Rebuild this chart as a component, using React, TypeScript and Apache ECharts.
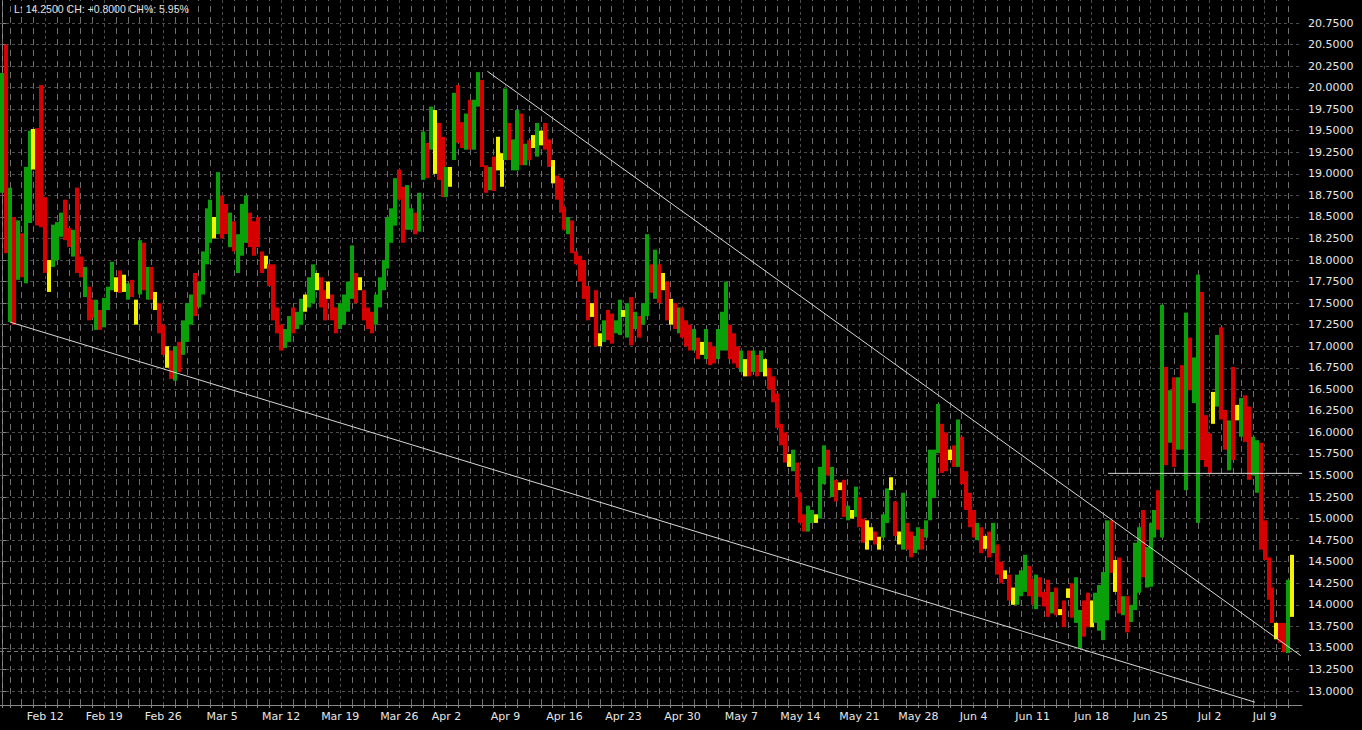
import React, { useEffect, useRef } from "react";
import * as echarts from "echarts";

// ---- data ----
const tradingDays = [
  "Feb 6", "Feb 7", "Feb 8", "Feb 9",
  "Feb 12", "Feb 13", "Feb 14", "Feb 15", "Feb 16",
  "Feb 19", "Feb 20", "Feb 21", "Feb 22", "Feb 23",
  "Feb 26", "Feb 27", "Feb 28", "Mar 1", "Mar 2",
  "Mar 5", "Mar 6", "Mar 7", "Mar 8", "Mar 9",
  "Mar 12", "Mar 13", "Mar 14", "Mar 15", "Mar 16",
  "Mar 19", "Mar 20", "Mar 21", "Mar 22", "Mar 23",
  "Mar 26", "Mar 27", "Mar 28", "Mar 29",
  "Apr 2", "Apr 3", "Apr 4", "Apr 5", "Apr 6",
  "Apr 9", "Apr 10", "Apr 11", "Apr 12", "Apr 13",
  "Apr 16", "Apr 17", "Apr 18", "Apr 19", "Apr 20",
  "Apr 23", "Apr 24", "Apr 25", "Apr 26", "Apr 27",
  "Apr 30", "May 1", "May 2", "May 3", "May 4",
  "May 7", "May 8", "May 9", "May 10", "May 11",
  "May 14", "May 15", "May 16", "May 17", "May 18",
  "May 21", "May 22", "May 23", "May 24", "May 25",
  "May 28", "May 29", "May 30", "May 31", "Jun 1",
  "Jun 4", "Jun 5", "Jun 6", "Jun 7", "Jun 8",
  "Jun 11", "Jun 12", "Jun 13", "Jun 14", "Jun 15",
  "Jun 18", "Jun 19", "Jun 20", "Jun 21", "Jun 22",
  "Jun 25", "Jun 26", "Jun 27", "Jun 28", "Jun 29",
  "Jul 2", "Jul 3", "Jul 4", "Jul 5", "Jul 6",
  "Jul 9", "Jul 10", "Jul 11",
];
const shortDays = ["Feb 6", "May 28", "Jul 4", "Jul 11"]; // 2 bars instead of 3
const weekLabels = [
  "Feb 12", "Feb 19", "Feb 26", "Mar 5", "Mar 12", "Mar 19", "Mar 26", "Apr 2",
  "Apr 9", "Apr 16", "Apr 23", "Apr 30", "May 7", "May 14", "May 21", "May 28",
  "Jun 4", "Jun 11", "Jun 18", "Jun 25", "Jul 2", "Jul 9",
];

const highs = [
  20.17, 20.50, 18.84, 18.50, 18.46, 18.31, 19.08, 19.50, 19.52, 19.53, 20.03,
  18.73, 18.00, 18.41, 18.44, 18.55, 18.70, 18.37, 18.35, 18.84, 18.04, 17.92, 17.69, 17.54, 17.54, 17.42,
  17.56, 17.69, 17.98, 17.80, 17.88, 17.83, 17.73, 17.77, 17.54, 18.23, 18.20, 17.92, 17.92, 17.63, 17.50,
  17.25, 17.00, 16.95, 17.00, 17.05, 17.30, 17.50, 17.60, 17.85, 17.75, 18.10, 18.60, 18.70, 18.50, 19.02,
  18.75, 18.65, 18.55, 18.45, 18.30, 18.65, 18.75, 18.55, 18.45, 18.50, 18.10, 18.05, 17.95, 17.95, 17.45,
  17.25, 17.20, 17.35, 17.45, 17.40, 17.55, 17.60, 17.80, 17.95, 17.85, 17.80, 17.65, 17.75, 17.60, 17.45,
  17.50, 17.60, 17.75, 18.17, 17.85, 17.80, 17.65, 17.45, 17.40, 17.60, 17.80, 18.00, 18.50, 18.60, 18.95,
  19.05, 18.85, 18.87, 18.60, 18.55, 18.78, 19.49, 19.36, 19.78, 19.74, 19.59, 19.43,
  19.08, 19.08, 19.94, 20.03, 19.60, 19.70, 19.86, 19.86, 20.18, 20.09, 19.10, 19.08, 19.20, 19.43, 19.24,
  19.99, 19.59, 19.40, 19.74, 19.70, 19.35, 19.39, 19.45, 19.59, 19.50, 19.59, 19.40, 19.16, 18.98, 18.95,
  18.62, 18.50, 18.46, 18.10, 18.05, 18.00, 17.70, 17.50, 17.65, 17.15, 17.30, 17.42, 17.38, 17.30, 17.54,
  17.42, 17.50, 17.57, 17.40, 17.35, 17.50, 18.30, 17.95, 18.12, 17.95, 17.85, 17.75, 17.55, 17.50, 17.45,
  17.45, 17.30, 17.25, 17.20, 17.10, 17.05, 17.20, 17.05, 17.00, 17.20, 17.40, 17.75, 17.25, 17.15, 17.00,
  16.95, 16.85, 16.95, 16.95, 16.90, 16.95, 16.85, 16.75, 16.65, 16.45, 16.10, 16.00, 15.75, 15.80, 15.65,
  15.30, 15.05, 15.15, 15.10, 15.05, 15.60, 15.85, 15.80, 15.60, 15.45, 15.42, 15.45, 15.15, 15.10, 15.37,
  15.25, 15.00, 14.98, 14.90, 14.85, 14.79, 15.05, 15.35, 15.48, 15.20, 14.85, 15.30, 14.95, 14.85, 14.80,
  14.90, 14.88, 14.98, 15.80, 15.80, 16.33, 16.10, 16.00, 15.80, 15.85, 16.15, 15.95, 15.55, 15.30,
  15.10, 14.95, 14.90, 14.80, 14.85, 14.95, 14.70, 14.50, 14.40, 14.35, 14.20, 14.35, 14.40, 14.58, 14.45,
  14.30, 14.35, 14.32, 14.15, 14.29, 14.15, 14.20, 13.95, 14.05, 14.19, 14.25, 14.32, 13.94, 14.05, 14.14,
  14.05, 14.14, 14.23, 14.38, 14.98, 14.98, 14.52, 14.55, 14.10, 14.10, 14.00, 14.72, 14.90, 15.10, 14.67,
  14.95, 15.10, 15.33, 17.48, 16.76, 16.49, 16.64, 16.64, 16.78, 17.39, 17.10, 16.87, 17.83, 17.63, 16.20,
  15.99, 16.47, 17.13, 17.22, 16.26, 16.14, 16.76, 16.32, 16.40, 16.43, 16.30, 15.95, 15.91, 15.88,
  14.98, 14.55, 14.20, 13.79, 13.79, 13.79, 14.29, 14.58,
];
const lows = [
  18.78, 18.08, 17.28, 17.25, 17.77, 17.80, 17.73, 18.43, 19.05, 18.40, 18.38,
  17.85, 17.63, 17.92, 18.00, 18.27, 18.23, 18.15, 18.04, 17.85, 17.80, 17.57, 17.30, 17.33, 17.19, 17.19,
  17.22, 17.42, 17.65, 17.63, 17.62, 17.63, 17.54, 17.57, 17.25, 17.60, 17.65, 17.54, 17.54, 17.42, 17.15,
  16.90, 16.75, 16.62, 16.60, 16.70, 16.90, 17.05, 17.25, 17.35, 17.45, 17.60, 17.95, 18.20, 18.25, 18.30,
  18.25, 18.30, 18.15, 18.10, 17.85, 18.05, 18.20, 18.15, 18.05, 18.15, 17.85, 17.90, 17.70, 17.30, 17.15,
  16.95, 16.98, 17.05, 17.15, 17.20, 17.25, 17.40, 17.45, 17.50, 17.65, 17.45, 17.30, 17.55, 17.30, 17.15,
  17.20, 17.25, 17.40, 17.55, 17.50, 17.65, 17.30, 17.20, 17.15, 17.25, 17.45, 17.65, 17.90, 18.20, 18.40,
  18.70, 18.20, 18.35, 18.35, 18.30, 18.33, 18.93, 18.95, 19.28, 19.00, 18.93, 18.73,
  18.73, 18.85, 19.16, 19.36, 19.30, 19.28, 19.28, 19.28, 19.78, 19.08, 18.78, 18.81, 18.80, 19.04, 18.85,
  19.16, 19.16, 19.04, 19.04, 19.10, 19.10, 19.16, 19.30, 19.20, 19.33, 19.28, 19.08, 18.89, 18.70, 18.55,
  18.35, 18.30, 18.08, 17.95, 17.75, 17.55, 17.30, 17.34, 17.00, 17.00, 17.05, 17.07, 17.03, 17.15, 17.13,
  17.34, 17.10, 17.01, 17.20, 17.10, 17.25, 17.35, 17.62, 17.55, 17.50, 17.65, 17.30, 17.25, 17.20, 17.15,
  17.10, 17.00, 16.95, 16.95, 16.85, 16.90, 16.85, 16.78, 16.80, 16.85, 16.95, 16.95, 16.85, 16.80, 16.75,
  16.70, 16.65, 16.65, 16.70, 16.65, 16.70, 16.65, 16.50, 16.35, 16.05, 15.85, 15.65, 15.60, 15.55, 15.25,
  14.95, 14.85, 14.85, 14.95, 14.95, 15.00, 15.40, 15.50, 15.25, 15.20, 15.33, 15.02, 14.98, 15.00, 15.02,
  14.90, 14.72, 14.64, 14.75, 14.70, 14.64, 14.78, 14.95, 15.33, 14.80, 14.70, 14.64, 14.64, 14.55, 14.60,
  14.64, 14.64, 14.78, 14.98, 15.24, 15.76, 15.53, 15.55, 15.68, 15.60, 15.60, 15.40, 15.10, 14.90,
  14.78, 14.75, 14.60, 14.65, 14.55, 14.60, 14.35, 14.25, 14.30, 14.05, 14.00, 14.00, 14.10, 14.15, 14.10,
  14.00, 13.95, 14.09, 13.98, 13.86, 13.90, 13.88, 13.88, 13.74, 14.08, 13.85, 13.79, 13.50, 13.63, 13.74,
  13.74, 13.79, 13.70, 13.59, 13.82, 14.37, 14.15, 13.90, 13.88, 13.68, 13.80, 13.94, 14.14, 14.32, 14.20,
  14.21, 14.78, 14.87, 14.78, 15.62, 15.88, 15.60, 15.80, 15.80, 15.33, 16.49, 16.34, 14.95, 15.68, 15.60,
  15.53, 16.10, 16.30, 16.15, 15.80, 15.56, 15.68, 16.14, 15.95, 15.89, 15.45, 15.50, 15.30, 14.64,
  14.52, 14.06, 13.79, 13.60, 13.56, 13.45, 13.44, 13.86,
];
// g = up (green), r = down (red), y = yellow
const barKinds = [
  "grgrgrggyrr",
  "rygggrrgrrgrrgr",
  "gggyrygrygrgryr",
  "ryrgrgggrggggyg",
  "rrgrgggrrrryrrr",
  "rggrggyggyrryrr",
  "ggggryrrrgggggg",
  "rrggrggrgyrr",
  "gygrrgrggrrgryy",
  "grggrgrygyrryrr",
  "rgrrrrryrygrrgg",
  "ygrgrggrgryryrg",
  "rrrgrygrrgggrrr",
  "gyrgrgyrrrrrygr",
  "rrggyggrgryrgyg",
  "rryyryggyrygrrg",
  "grggggrryrgrrr",
  "rgryrgrryrygggr",
  "rgrrrgryryrggrr",
  "yggggryrgrgggrg",
  "ggrgrgrgrgrggrr",
  "rygrrgrygrrggr",
  "rrryrrgy",
].join("");

const priceTicks = [
  13.0, 13.25, 13.5, 13.75, 14.0, 14.25, 14.5, 14.75, 15.0, 15.25, 15.5, 15.75,
  16.0, 16.25, 16.5, 16.75, 17.0, 17.25, 17.5, 17.75, 18.0, 18.25, 18.5, 18.75,
  19.0, 19.25, 19.5, 19.75, 20.0, 20.25, 20.5, 20.75,
];
// trend lines: [bar position, price]
const lowerTrend = [[2.04, 17.28], [318.55, 12.87]];
const upperTrend = [[123.4, 20.19], [330.2, 13.41]];
const resistanceLine = [[281.2, 15.525], [330.5, 15.525]];
const markerLevel = 13.455;

const lastPrice = 14.25;
const priceChange = 0.8;
const priceChangePct = 5.95;

const yMin = 12.8376;
const yMax = 21.0169;
const padSlots = 2;

const palette: Record<string, string> = { g: "#0aa00a", r: "#d60000", y: "#f4f400" };

export default function App() {
  const ref = useRef<HTMLDivElement>(null);

  useEffect(() => {
    document.body.style.margin = "0";
    document.body.style.background = "#000";
    const el = ref.current!;
    const chart = echarts.init(el, null, { renderer: "svg" });

    const categories: string[] = [];
    const dayFirst: number[] = [];
    const weekFirst: number[] = [];
    tradingDays.forEach((d) => {
      const n = shortDays.includes(d) ? 2 : 3;
      dayFirst.push(categories.length);
      if (weekLabels.includes(d)) weekFirst.push(categories.length);
      for (let k = 0; k < n; k++) categories.push(`${d}|${k}`);
    });
    for (let k = 0; k < padSlots; k++) categories.push(` |${k}`);
    const daySet = new Set(dayFirst);
    const weekSet = new Set(weekFirst);

    const kindCodes = ["g", "r", "y"];
    const barData = highs.map((h, i) => [i, h, lows[i], kindCodes.indexOf(barKinds[i])]);

    const hStyle = { color: "#4c4c4c", width: 1, type: [3, 3] as any };
    const vStyle = { color: "#6e6e6e", width: 1, type: [6, 5] as any };
    const wStyle = { color: "#4c4c4c", width: 1, type: [3, 3] as any };

    const gridLines: any[] = [
      ...priceTicks.map((v) => ({ yAxis: v, lineStyle: hStyle })),
      ...dayFirst.map((i) => ({ xAxis: i, lineStyle: weekSet.has(i) ? wStyle : vStyle })),
      { yAxis: markerLevel, lineStyle: { color: "#7a7a7a", width: 1, type: [4, 3] } },
    ];

    const lineSeries = (data: number[][], extra: any = {}) => ({
      type: "line",
      xAxisIndex: 1,
      yAxisIndex: 0,
      data,
      symbol: "none",
      silent: true,
      z: 3,
      lineStyle: { color: "#d8d8d8", width: 1 },
      ...extra,
    });

    const fmtText = `L: ${lastPrice.toFixed(4)} CH: ${priceChange >= 0 ? "+" : ""}${priceChange.toFixed(4)} CH%: ${priceChangePct.toFixed(2)}%`;

    chart.setOption({
      animation: false,
      backgroundColor: "#000",
      title: {
        text: fmtText,
        left: 14,
        top: 3,
        padding: 0,
        textStyle: { color: "#e0e0e0", fontSize: 10.5, fontWeight: "normal", fontFamily: "Liberation Sans" },
      },
      grid: { left: 0, top: 0, width: 1302, height: 705, containLabel: false },
      xAxis: [
        {
          type: "category",
          data: categories,
          boundaryGap: true,
          position: "bottom",
          axisLine: { show: true, lineStyle: { color: "#8a8a8a" } },
          axisTick: {
            show: true,
            alignWithLabel: true,
            interval: (i: number) => daySet.has(i),
            length: 3,
            lineStyle: { color: "#8a8a8a" },
          },
          axisLabel: {
            interval: (i: number) => weekSet.has(i),
            formatter: (v: string) => v.split("|")[0],
            color: "#e6e6e6",
            fontSize: 11,
            fontFamily: "DejaVu Sans",
            margin: 6,
          },
          splitLine: { show: false },
        },
        {
          type: "value",
          min: -0.5,
          max: categories.length - 0.5,
          show: false,
        },
      ],
      yAxis: {
        type: "value",
        position: "right",
        min: yMin,
        max: yMax,
        axisLine: { show: true, lineStyle: { color: "#8a8a8a" } },
        axisTick: { show: true, customValues: priceTicks, length: 4, lineStyle: { color: "#8a8a8a" } },
        axisLabel: {
          customValues: priceTicks,
          formatter: (v: number) => v.toFixed(4),
          color: "#e6e6e6",
          fontSize: 11,
          fontFamily: "DejaVu Sans",
          margin: 6,
        },
        splitLine: { show: false },
      },
      series: [
        {
          type: "custom",
          xAxisIndex: 0,
          yAxisIndex: 0,
          data: barData,
          encode: { x: 0, y: [1, 2] },
          z: 2,
          silent: true,
          renderItem: (params: any, api: any) => {
            const top = api.coord([api.value(0), api.value(1)]);
            const bot = api.coord([api.value(0), api.value(2)]);
            const x = Math.round(top[0] - 2);
            return {
              type: "rect",
              shape: { x, y: top[1], width: 4, height: Math.max(1, bot[1] - top[1]) },
              style: { fill: palette[kindCodes[api.value(3)]] },
            };
          },
        },
        lineSeries(lowerTrend, {
          markLine: {
            silent: true,
            z: 1,
            symbol: ["none", "none"],
            label: { show: false },
            animation: false,
            data: gridLines,
          },
        }),
        lineSeries(upperTrend),
        lineSeries(resistanceLine),
      ],
    });

    return () => chart.dispose();
  }, []);

  return (
    <div
      ref={ref}
      style={{ width: 1362, height: 730, position: "absolute", left: 0, top: 0, background: "#000" }}
    />
  );
}
